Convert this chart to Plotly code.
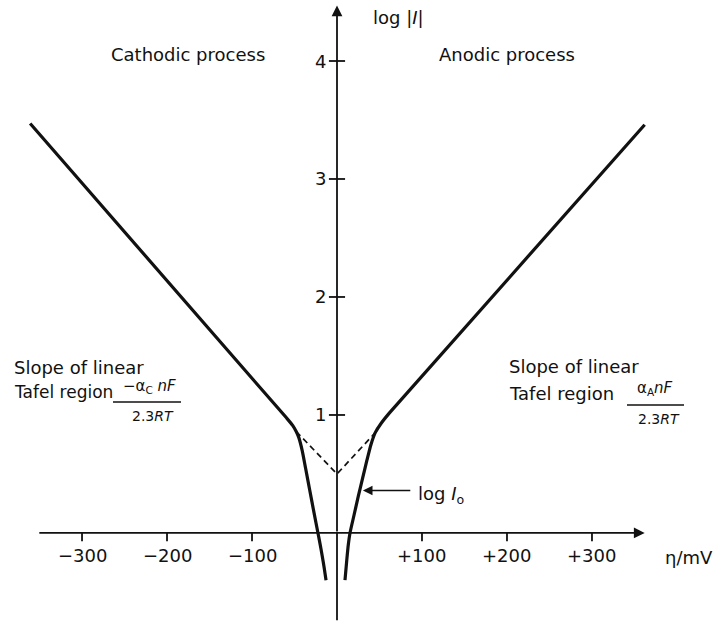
import plotly.graph_objects as go

# Overpotential (mV) and log|I| along the two branches of the polarisation curve
cathodic_eta = [-12.9, -15, -17.5, -20, -22.4, -27, -32, -37, -41, -45, -48, -52, -60, -361]
cathodic_logi = [-0.40, -0.30, -0.19, -0.09, 0.0, 0.17, 0.36, 0.55, 0.70, 0.81, 0.86, 0.91,
                 0.98, 3.47]

anodic_eta = [9.4, 11.5, 13.3, 15.3, 20, 25, 30, 35, 40, 45, 52, 62, 362]
anodic_logi = [-0.40, -0.23, -0.10, 0.0, 0.15, 0.31, 0.46, 0.61, 0.75, 0.85, 0.93, 1.02, 3.46]

# Tafel extrapolations meeting at log I0
tafel_eta = [-48, 0, 45]
tafel_logi = [0.86, 0.50, 0.85]

# Axis ticks
x_ticks = [-300, -200, -100, 100, 200, 300]
x_tick_labels = ["\u2212300", "\u2212200", "\u2212100", "+100", "+200", "+300"]
y_ticks = [1, 2, 3, 4]
y_tick_labels = ["1", "2", "3", "4"]

W, H = 721, 625
INK = "#111111"
FONT = "DejaVu Sans"

fig = go.Figure()

for xs, ys in ((cathodic_eta, cathodic_logi), (anodic_eta, anodic_logi)):
    fig.add_trace(go.Scatter(x=xs, y=ys, mode="lines",
                             line=dict(color=INK, width=3.2, shape="spline", smoothing=0.6),
                             hoverinfo="skip"))
fig.add_trace(go.Scatter(x=tafel_eta, y=tafel_logi, mode="lines",
                         line=dict(color=INK, width=1.7, dash="6px,4px"),
                         hoverinfo="skip"))

shapes = []
# y-axis crosses
for t in y_ticks:
    shapes.append(dict(type="line", xref="x", yref="y", x0=-9.5, x1=9.5, y0=t, y1=t,
                       line=dict(color=INK, width=1.8)))
# x-axis ticks hanging below the axis
for t in x_ticks:
    shapes.append(dict(type="line", xref="x", yref="y", x0=t, x1=t, y0=0, y1=-0.07,
                       line=dict(color=INK, width=1.8)))
# y axis lower part (below the x axis)
shapes.append(dict(type="line", xref="x", yref="y", x0=0, x1=0, y0=-0.74, y1=0,
                   line=dict(color=INK, width=1.8)))


def px(xp):
    return xp / W


def py(yp):
    return 1 - yp / H


# fraction bars of the slope expressions
shapes.append(dict(type="line", xref="paper", yref="paper", x0=px(113), x1=px(181),
                   y0=py(402), y1=py(402), line=dict(color=INK, width=1.6)))
shapes.append(dict(type="line", xref="paper", yref="paper", x0=px(627), x1=px(684),
                   y0=py(405), y1=py(405), line=dict(color=INK, width=1.6)))

ann = []
# axes drawn as arrows
ann.append(dict(x=362, y=0, ax=-352, ay=0, xref="x", yref="y", axref="x", ayref="y",
                showarrow=True, arrowhead=2, arrowsize=1.2, arrowwidth=1.8,
                arrowcolor=INK, text=""))
ann.append(dict(x=0, y=4.47, ax=0, ay=0, xref="x", yref="y", axref="x", ayref="y",
                showarrow=True, arrowhead=2, arrowsize=1.2, arrowwidth=1.8,
                arrowcolor=INK, text=""))

for t, lab in zip(x_ticks, x_tick_labels):
    ann.append(dict(x=t, y=0, xref="x", yref="y", yshift=-23, text=lab, showarrow=False,
                    font=dict(family=FONT, size=18, color=INK)))
for t, lab in zip(y_ticks, y_tick_labels):
    ann.append(dict(x=0, y=t, xref="x", yref="y", xshift=-9, xanchor="right", text=lab,
                    showarrow=False, font=dict(family=FONT, size=18, color=INK)))


def label(x, y, text, size=18, anchor="left"):
    ann.append(dict(x=px(x), y=py(y), xref="paper", yref="paper", text=text,
                    xanchor=anchor, yanchor="middle", showarrow=False,
                    font=dict(family=FONT, size=size, color=INK)))


label(371, 17, "log |<i>I</i>|", 18)
label(663, 557, "\u03b7/mV", 18)
label(109, 55, "Cathodic process", 18)
label(437, 55, "Anodic process", 18)
label(12, 367, "Slope of linear", 18)
label(12, 392, "Tafel region", 17)
label(149, 386, "\u2212\u03b1<sub>C</sub> <i>nF</i>", 15, "center")
label(153, 416, "2.3<i>RT</i>", 14, "center")
label(507, 366, "Slope of linear", 18)
label(507, 393, "Tafel region", 18)
label(655, 389, "\u03b1<sub>A</sub><i>nF</i>", 15, "center")
label(659, 419, "2.3<i>RT</i>", 14, "center")
label(416, 495, "log <i>I</i><sub>o</sub>", 18)

# pointer to the exchange current
ann.append(dict(x=30.5, y=0.36, ax=88, ay=0.36, xref="x", yref="y", axref="x", ayref="y",
                showarrow=True, arrowhead=2, arrowsize=1.2, arrowwidth=1.6,
                arrowcolor=INK, text=""))

fig.update_layout(
    width=W, height=H,
    margin=dict(l=0, r=0, t=0, b=0),
    paper_bgcolor="white", plot_bgcolor="white",
    showlegend=False,
    xaxis=dict(range=[-396.5, 451.8], visible=False, fixedrange=True),
    yaxis=dict(range=[-0.780, 4.517], visible=False, fixedrange=True),
    shapes=shapes, annotations=ann,
)

fig.write_html("out.html")
